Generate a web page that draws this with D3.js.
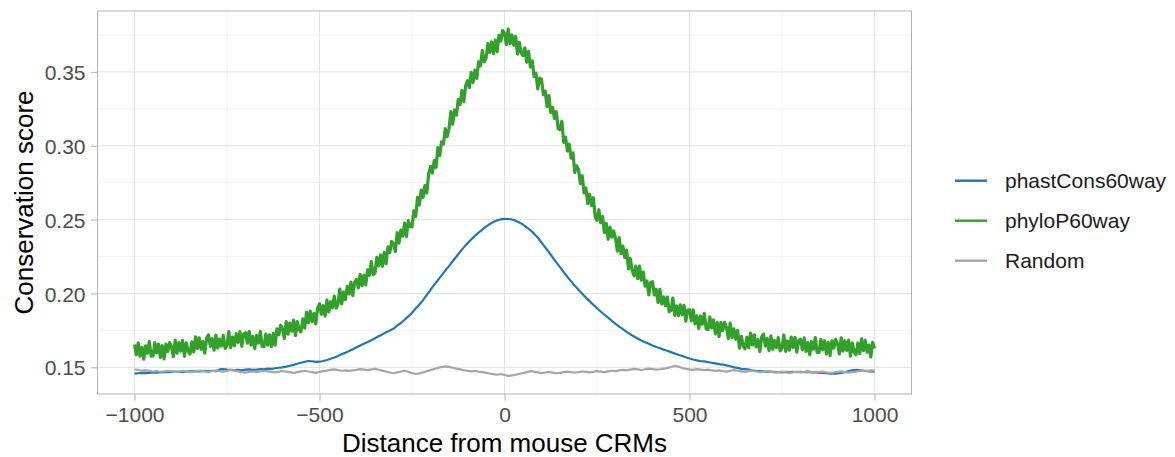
<!DOCTYPE html>
<html>
<head>
<meta charset="utf-8">
<script src="https://cdn.jsdelivr.net/npm/d3@7"></script>
<style>
  html, body { margin: 0; padding: 0; background: #ffffff; }
  svg { display: block; font-family: "Liberation Sans", Arial, Helvetica, sans-serif; }
</style>
</head>
<body>
<svg id="chart" width="1175" height="457"></svg>
<script>
// Mean conservation score around mouse CRM centres (bp offsets -1000..1000)

const seriesNames = ["phastCons60way", "phyloP60way", "Random"];
const seriesColors = ["#1f78b4", "#33a02c", "#a6a6a6"];

const xTicks = [-1000, -500, 0, 500, 1000];
const xTickLabels = ["\u22121000", "\u2212500", "0", "500", "1000"];
const xMinor = [-750, -250, 250, 750];
const yTicks = [0.15, 0.20, 0.25, 0.30, 0.35];
const yTickLabels = ["0.15", "0.20", "0.25", "0.30", "0.35"];
const yMinor = [0.175, 0.225, 0.275, 0.325, 0.375];

// phyloP60way, every 5 bp from -1000 to 1000
const phyloP = [
  0.1655, 0.1585, 0.1665, 0.1575, 0.1635, 0.1555, 0.1645, 0.1595, 0.1675, 0.1575,
  0.1577, 0.1667, 0.1597, 0.1657, 0.1567, 0.1647, 0.1557, 0.1657, 0.1607, 0.1667,
  0.1640, 0.1572, 0.1684, 0.1596, 0.1668, 0.1610, 0.1682, 0.1574, 0.1666, 0.1608,
  0.1590, 0.1672, 0.1604, 0.1706, 0.1628, 0.1700, 0.1622, 0.1674, 0.1596, 0.1698,
  0.1720, 0.1642, 0.1694, 0.1616, 0.1718, 0.1630, 0.1692, 0.1644, 0.1716, 0.1628,
  0.1650, 0.1742, 0.1633, 0.1705, 0.1646, 0.1728, 0.1669, 0.1741, 0.1642, 0.1724,
  0.1735, 0.1663, 0.1742, 0.1650, 0.1709, 0.1627, 0.1716, 0.1664, 0.1743, 0.1641,
  0.1640, 0.1725, 0.1650, 0.1720, 0.1640, 0.1730, 0.1650, 0.1760, 0.1720, 0.1785,
  0.1760, 0.1695, 0.1810, 0.1725, 0.1800, 0.1745, 0.1820, 0.1715, 0.1810, 0.1755,
  0.1740, 0.1828, 0.1766, 0.1874, 0.1802, 0.1880, 0.1808, 0.1866, 0.1794, 0.1902,
  0.1930, 0.1859, 0.1918, 0.1847, 0.1956, 0.1875, 0.1944, 0.1903, 0.1982, 0.1901,
  0.1930, 0.2030, 0.1929, 0.2009, 0.1958, 0.2048, 0.1997, 0.2077, 0.1986, 0.2076,
  0.2095, 0.2038, 0.2130, 0.2053, 0.2125, 0.2058, 0.2160, 0.2123, 0.2215, 0.2128,
  0.2140, 0.2244, 0.2187, 0.2261, 0.2184, 0.2278, 0.2201, 0.2315, 0.2278, 0.2352,
  0.2335, 0.2284, 0.2412, 0.2341, 0.2429, 0.2388, 0.2476, 0.2385, 0.2493, 0.2452,
  0.2450, 0.2560, 0.2520, 0.2650, 0.2600, 0.2700, 0.2650, 0.2730, 0.2680, 0.2810,
  0.2860, 0.2815, 0.2899, 0.2854, 0.2988, 0.2933, 0.3027, 0.3012, 0.3116, 0.3061,
  0.3115, 0.3231, 0.3146, 0.3242, 0.3207, 0.3313, 0.3278, 0.3374, 0.3299, 0.3405,
  0.3440, 0.3393, 0.3496, 0.3429, 0.3512, 0.3455, 0.3568, 0.3541, 0.3644, 0.3567,
  0.3590, 0.3691, 0.3632, 0.3703, 0.3624, 0.3715, 0.3636, 0.3747, 0.3708, 0.3779,
  0.3760, 0.3685, 0.3790, 0.3690, 0.3750, 0.3680, 0.3740, 0.3620, 0.3700, 0.3630,
  0.3610, 0.3663, 0.3566, 0.3639, 0.3532, 0.3575, 0.3468, 0.3491, 0.3384, 0.3457,
  0.3450, 0.3345, 0.3370, 0.3265, 0.3340, 0.3225, 0.3260, 0.3185, 0.3230, 0.3115,
  0.3110, 0.3166, 0.3022, 0.3058, 0.2964, 0.3010, 0.2916, 0.2952, 0.2818, 0.2864,
  0.2840, 0.2744, 0.2797, 0.2681, 0.2714, 0.2608, 0.2671, 0.2595, 0.2648, 0.2522,
  0.2495, 0.2567, 0.2479, 0.2521, 0.2413, 0.2475, 0.2367, 0.2449, 0.2381, 0.2423,
  0.2375, 0.2287, 0.2378, 0.2270, 0.2321, 0.2243, 0.2294, 0.2166, 0.2237, 0.2159,
  0.2120, 0.2185, 0.2100, 0.2185, 0.2090, 0.2145, 0.2050, 0.2085, 0.1990, 0.2075,
  0.2080, 0.1990, 0.2029, 0.1939, 0.2028, 0.1928, 0.1977, 0.1917, 0.1976, 0.1876,
  0.1885, 0.1969, 0.1852, 0.1916, 0.1849, 0.1923, 0.1856, 0.1920, 0.1813, 0.1887,
  0.1890, 0.1815, 0.1889, 0.1794, 0.1848, 0.1763, 0.1847, 0.1792, 0.1866, 0.1761,
  0.1755, 0.1841, 0.1766, 0.1822, 0.1727, 0.1803, 0.1708, 0.1804, 0.1749, 0.1805,
  0.1770, 0.1695, 0.1800, 0.1700, 0.1760, 0.1690, 0.1750, 0.1630, 0.1710, 0.1645,
  0.1625, 0.1704, 0.1633, 0.1731, 0.1652, 0.1720, 0.1639, 0.1688, 0.1607, 0.1706,
  0.1725, 0.1644, 0.1694, 0.1613, 0.1713, 0.1622, 0.1682, 0.1633, 0.1701, 0.1611,
  0.1630, 0.1719, 0.1608, 0.1678, 0.1616, 0.1705, 0.1634, 0.1703, 0.1602, 0.1681,
  0.1690, 0.1619, 0.1699, 0.1607, 0.1668, 0.1585, 0.1674, 0.1623, 0.1702, 0.1601,
  0.1600, 0.1690, 0.1620, 0.1680, 0.1590, 0.1670, 0.1580, 0.1680, 0.1630, 0.1690,
  0.1660, 0.1590, 0.1700, 0.1610, 0.1680, 0.1615, 0.1685, 0.1575, 0.1665, 0.1605,
  0.1585, 0.1665, 0.1594, 0.1693, 0.1613, 0.1682, 0.1602, 0.1651, 0.1570, 0.1669,
  0.1628
];

// phastCons60way, every 10 bp from -1000 to 1000
const phastCons = [
  0.1458, 0.1460, 0.1462, 0.1461, 0.1463, 0.1465, 0.1464, 0.1466, 0.1468, 0.1467,
  0.1469, 0.1471, 0.1470, 0.1468, 0.1471, 0.1473, 0.1472, 0.1474, 0.1473, 0.1476,
  0.1475, 0.1477, 0.1474, 0.1486, 0.1488, 0.1485, 0.1483, 0.1481, 0.1483, 0.1480,
  0.1484, 0.1486, 0.1483, 0.1485, 0.1488, 0.1487, 0.1491, 0.1490, 0.1494, 0.1497,
  0.1500, 0.1505, 0.1511, 0.1517, 0.1524, 0.1531, 0.1538, 0.1543, 0.1541, 0.1537,
  0.1538, 0.1543, 0.1550, 0.1558, 0.1567, 0.1577, 0.1588, 0.1599, 0.1611, 0.1623,
  0.1636, 0.1648, 0.1660, 0.1672, 0.1684, 0.1697, 0.1710, 0.1723, 0.1737, 0.1749,
  0.1762, 0.1782, 0.1800, 0.1822, 0.1845, 0.1870, 0.1898, 0.1925, 0.1955, 0.1990,
  0.2025, 0.2058, 0.2090, 0.2122, 0.2155, 0.2185, 0.2218, 0.2250, 0.2282, 0.2312,
  0.2340, 0.2365, 0.2390, 0.2412, 0.2432, 0.2452, 0.2470, 0.2484, 0.2495, 0.2502,
  0.2505, 0.2504, 0.2501, 0.2493, 0.2481, 0.2466, 0.2448, 0.2428, 0.2405, 0.2378,
  0.2345, 0.2312, 0.2280, 0.2245, 0.2210, 0.2178, 0.2145, 0.2112, 0.2082, 0.2052,
  0.2025, 0.1998, 0.1972, 0.1948, 0.1924, 0.1900, 0.1878, 0.1856, 0.1836, 0.1815,
  0.1795, 0.1776, 0.1758, 0.1740, 0.1724, 0.1709, 0.1695, 0.1682, 0.1670, 0.1659,
  0.1648, 0.1638, 0.1629, 0.1620, 0.1612, 0.1603, 0.1594, 0.1585, 0.1577, 0.1568,
  0.1560, 0.1553, 0.1547, 0.1542, 0.1540, 0.1535, 0.1531, 0.1527, 0.1522, 0.1518,
  0.1513, 0.1507, 0.1500, 0.1496, 0.1490, 0.1488, 0.1484, 0.1479, 0.1476, 0.1474,
  0.1472, 0.1469, 0.1471, 0.1467, 0.1468, 0.1466, 0.1469, 0.1467, 0.1470, 0.1468,
  0.1470, 0.1467, 0.1469, 0.1465, 0.1466, 0.1462, 0.1463, 0.1460, 0.1458, 0.1457,
  0.1459, 0.1463, 0.1468, 0.1474, 0.1480, 0.1483, 0.1481, 0.1477, 0.1474, 0.1472,
  0.1470
];

// Random regions, every 10 bp from -1000 to 1000
const randomScore = [
  0.1487, 0.1482, 0.1478, 0.1480, 0.1476, 0.1472, 0.1475, 0.1470, 0.1473, 0.1477,
  0.1474, 0.1469, 0.1472, 0.1476, 0.1471, 0.1467, 0.1470, 0.1474, 0.1478, 0.1473,
  0.1469, 0.1474, 0.1479, 0.1475, 0.1471, 0.1476, 0.1482, 0.1478, 0.1473, 0.1468,
  0.1464, 0.1469, 0.1473, 0.1468, 0.1472, 0.1477, 0.1473, 0.1469, 0.1466, 0.1471,
  0.1475, 0.1471, 0.1467, 0.1463, 0.1468, 0.1473, 0.1477, 0.1472, 0.1467, 0.1463,
  0.1469, 0.1474, 0.1478, 0.1483, 0.1486, 0.1481, 0.1477, 0.1480, 0.1476, 0.1479,
  0.1483, 0.1488, 0.1485, 0.1481, 0.1486, 0.1490, 0.1484, 0.1478, 0.1471, 0.1465,
  0.1460, 0.1466, 0.1472, 0.1477, 0.1470, 0.1461, 0.1455, 0.1459, 0.1466, 0.1474,
  0.1481, 0.1489, 0.1496, 0.1502, 0.1507, 0.1503, 0.1497, 0.1491, 0.1486, 0.1481,
  0.1477, 0.1473, 0.1476, 0.1471, 0.1467, 0.1463, 0.1458, 0.1454, 0.1450, 0.1455,
  0.1448, 0.1442, 0.1445, 0.1450, 0.1456, 0.1462, 0.1468, 0.1474, 0.1470, 0.1466,
  0.1461, 0.1465, 0.1469, 0.1464, 0.1460, 0.1463, 0.1467, 0.1471, 0.1468, 0.1465,
  0.1468, 0.1472, 0.1469, 0.1466, 0.1470, 0.1474, 0.1471, 0.1468, 0.1473, 0.1477,
  0.1474, 0.1479, 0.1483, 0.1480, 0.1485, 0.1489, 0.1486, 0.1482, 0.1487, 0.1491,
  0.1488, 0.1484, 0.1487, 0.1491, 0.1495, 0.1502, 0.1510, 0.1505, 0.1496, 0.1490,
  0.1486, 0.1483, 0.1488, 0.1485, 0.1481, 0.1484, 0.1480, 0.1476, 0.1479, 0.1475,
  0.1471, 0.1476, 0.1481, 0.1477, 0.1473, 0.1469, 0.1474, 0.1478, 0.1472, 0.1467,
  0.1470, 0.1474, 0.1469, 0.1465, 0.1468, 0.1472, 0.1467, 0.1463, 0.1466, 0.1470,
  0.1466, 0.1469, 0.1473, 0.1468, 0.1464, 0.1467, 0.1471, 0.1466, 0.1462, 0.1465,
  0.1469, 0.1473, 0.1468, 0.1464, 0.1467, 0.1471, 0.1475, 0.1479, 0.1476, 0.1480,
  0.1478
];

const pos5 = d3.range(-1000, 1001, 5);
const pos10 = d3.range(-1000, 1001, 10);

const panel = { left: 97.5, right: 911.5, top: 11, bottom: 394 };

const x = d3.scaleLinear().domain([-1100, 1100]).range([panel.left, panel.right]);
const y = d3.scaleLinear().domain([0.13195, 0.3912]).range([panel.bottom, panel.top]);

const svg = d3.select("#chart");

// grid
const grid = svg.append("g");
grid.selectAll(".ymin").data(yMinor).join("line")
  .attr("x1", panel.left).attr("x2", panel.right)
  .attr("y1", d => y(d)).attr("y2", d => y(d))
  .attr("stroke", "#efefef").attr("stroke-width", 0.8);
grid.selectAll(".xmin").data(xMinor).join("line")
  .attr("y1", panel.top).attr("y2", panel.bottom)
  .attr("x1", d => x(d)).attr("x2", d => x(d))
  .attr("stroke", "#efefef").attr("stroke-width", 0.8);
grid.selectAll(".ymaj").data(yTicks).join("line")
  .attr("x1", panel.left).attr("x2", panel.right)
  .attr("y1", d => y(d)).attr("y2", d => y(d))
  .attr("stroke", "#e4e4e4").attr("stroke-width", 1);
grid.selectAll(".xmaj").data(xTicks).join("line")
  .attr("y1", panel.top).attr("y2", panel.bottom)
  .attr("x1", d => x(d)).attr("x2", d => x(d))
  .attr("stroke", "#e4e4e4").attr("stroke-width", 1);

// series lines
svg.append("clipPath").attr("id", "panel-clip")
  .append("rect")
  .attr("x", panel.left).attr("y", panel.top)
  .attr("width", panel.right - panel.left).attr("height", panel.bottom - panel.top);

const line = d3.line().x(d => x(d[0])).y(d => y(d[1]));
const seriesData = [
  d3.zip(pos10, phastCons),
  d3.zip(pos5, phyloP),
  d3.zip(pos10, randomScore)
];
const lines = svg.append("g").attr("clip-path", "url(#panel-clip)");
seriesData.forEach((pts, i) => {
  lines.append("path")
    .attr("d", line(pts))
    .attr("fill", "none")
    .attr("stroke", seriesColors[i])
    .attr("stroke-width", i === 1 ? 3.2 : 2.2)
    .attr("stroke-linejoin", "round");
});

// panel border
svg.append("rect")
  .attr("x", panel.left).attr("y", panel.top)
  .attr("width", panel.right - panel.left).attr("height", panel.bottom - panel.top)
  .attr("fill", "none").attr("stroke", "#b3b3b3").attr("stroke-width", 1);

// axes
const xAxis = d3.axisBottom(x).tickValues(xTicks)
  .tickFormat((d, i) => xTickLabels[i]).tickSizeInner(6.5).tickSizeOuter(0).tickPadding(4);
const gx = svg.append("g").attr("transform", `translate(0,${panel.bottom})`).call(xAxis);
gx.select(".domain").remove();
gx.selectAll(".tick line").attr("stroke", "#b3b3b3").attr("stroke-width", 1);
gx.selectAll(".tick text").attr("fill", "#4d4d4d")
  .style("font-size", "21px").style("font-family", "'Liberation Sans', Arial, sans-serif")
  .attr("y", 27.7).attr("dy", null);

const yAxis = d3.axisLeft(y).tickValues(yTicks)
  .tickFormat((d, i) => yTickLabels[i]).tickSizeInner(6.5).tickSizeOuter(0).tickPadding(5);
const gy = svg.append("g").attr("transform", `translate(${panel.left},0)`).call(yAxis);
gy.select(".domain").remove();
gy.selectAll(".tick line").attr("stroke", "#b3b3b3").attr("stroke-width", 1);
gy.selectAll(".tick text").attr("fill", "#4d4d4d")
  .style("font-size", "21px").style("font-family", "'Liberation Sans', Arial, sans-serif")
  .attr("x", -12).attr("dy", "0.36em");

// axis titles
svg.append("text")
  .attr("x", (panel.left + panel.right) / 2).attr("y", 451.5)
  .attr("text-anchor", "middle")
  .style("font-size", "26px").attr("fill", "#000")
  .text("Distance from mouse CRMs");

svg.append("text")
  .attr("transform", `translate(33,${(panel.top + panel.bottom) / 2}) rotate(-90)`)
  .attr("text-anchor", "middle")
  .style("font-size", "26px").attr("fill", "#000")
  .text("Conservation score");

// legend
const legendY = [180.7, 220.7, 260.7];
const legend = svg.append("g");
seriesNames.forEach((name, i) => {
  legend.append("line")
    .attr("x1", 955).attr("x2", 987)
    .attr("y1", legendY[i]).attr("y2", legendY[i])
    .attr("stroke", seriesColors[i]).attr("stroke-width", 2.4);
  legend.append("text")
    .attr("x", 1005).attr("y", legendY[i]).attr("dy", "0.36em")
    .style("font-size", "21px").attr("fill", "#1a1a1a")
    .text(name);
});
</script>
</body>
</html>
